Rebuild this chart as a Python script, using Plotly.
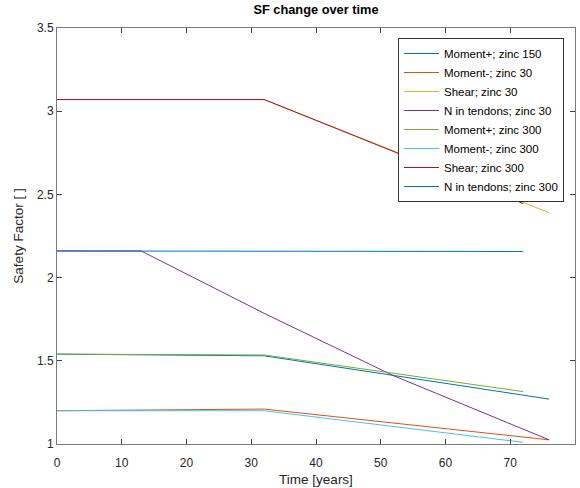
import plotly.graph_objects as go

# ---- data ----
names = [
    "Moment+; zinc 150",
    "Moment-; zinc 30",
    "Shear; zinc 30",
    "N in tendons; zinc 30",
    "Moment+; zinc 300",
    "Moment-; zinc 300",
    "Shear; zinc 300",
    "N in tendons; zinc 300",
]
t_mp150 = [0, 32, 76]
sf_mp150 = [1.54, 1.53, 1.27]
t_mm30 = [0, 32, 76]
sf_mm30 = [1.20, 1.21, 1.025]
t_sh30 = [0, 32, 76]
sf_sh30 = [3.07, 3.07, 2.39]
t_nt30 = [0, 13, 32, 52, 76]
sf_nt30 = [2.16, 2.16, 1.785, 1.41, 1.025]
t_mp300 = [0, 32, 72]
sf_mp300 = [1.54, 1.535, 1.315]
t_mm300 = [0, 32, 72]
sf_mm300 = [1.20, 1.20, 1.01]
t_sh300 = [0, 32, 72]
sf_sh300 = [3.07, 3.07, 2.445]
t_nt300 = [0, 72]
sf_nt300 = [2.16, 2.157]

xs = [t_mp150, t_mm30, t_sh30, t_nt30, t_mp300, t_mm300, t_sh300, t_nt300]
ys = [sf_mp150, sf_mm30, sf_sh30, sf_nt30, sf_mp300, sf_mm300, sf_sh300, sf_nt300]
colors = ["#0072BD", "#D95319", "#EDB120", "#7E2F8E",
          "#77AC30", "#4DBEEE", "#A2142F", "#0072BD"]

x_ticks = [0, 10, 20, 30, 40, 50, 60, 70, 80]
y_ticks = [1, 1.5, 2, 2.5, 3, 3.5]
y_ticklabels = ["1", "1.5", "2", "2.5", "3", "3.5"]

FONT = "Liberation Sans, Arial, Helvetica"

fig = go.Figure()
for n, x, y, c in zip(names, xs, ys, colors):
    fig.add_trace(go.Scatter(x=x, y=y, mode="lines", name=n,
                             line=dict(color=c, width=1)))

axis_common = dict(
    showgrid=False, zeroline=False, showline=True, mirror="ticks",
    linecolor="#7a7a7a", linewidth=1, ticks="inside", ticklen=5,
    tickcolor="#404040", automargin=False,
    tickfont=dict(family=FONT, size=12, color="#262626"),
)

fig.update_layout(
    width=580, height=488,
    margin=dict(l=57, r=5, t=28, b=44, autoexpand=False),
    paper_bgcolor="white", plot_bgcolor="white",
    font=dict(family=FONT, color="#262626"),
    title=dict(text="<b>SF change over time</b>", x=316 / 580, xanchor="center",
               y=1 - 5 / 488, yanchor="top", yref="container",
               font=dict(size=12.8, color="#000000")),
    xaxis=dict(range=[0, 80], tickvals=x_ticks, ticklabelstandoff=8,
               title=dict(text="Time [years]", standoff=5, font=dict(size=13.5)),
               **axis_common),
    yaxis=dict(range=[1, 3.5], tickvals=y_ticks, ticktext=y_ticklabels,
               title=dict(text="Safety Factor [ ]", standoff=10, font=dict(size=13.5)),
               **axis_common),
    legend=dict(x=(398 - 57) / 518, y=1 - (38 - 28) / 416, xanchor="left", yanchor="top",
                bgcolor="white", bordercolor="#333333", borderwidth=1,
                font=dict(family=FONT, size=11.5, color="#000000"), tracegroupgap=0,
                itemwidth=35),
    showlegend=True,
)

fig.write_html("out.html", config={"displayModeBar": False},
               post_script="document.body.style.margin='0';document.body.style.padding='0';")
